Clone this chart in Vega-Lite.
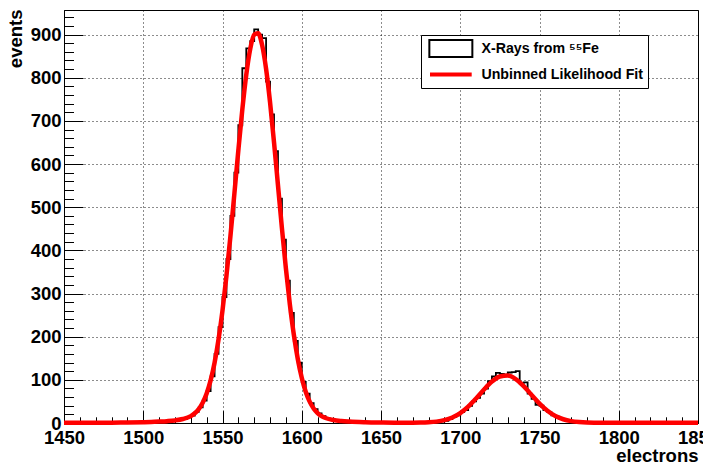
{
  "$schema": "https://vega.github.io/schema/vega-lite/v6.json",
  "width": 634,
  "height": 413,
  "autosize": {"type": "none"},
  "padding": {"left": 64, "top": 10, "right": 5, "bottom": 41},
  "background": "white",
  "view": {"stroke": "black", "strokeWidth": 1},
  "config": {
    "axis": {
      "labelFont": "Liberation Sans", "labelFontWeight": "bold", "labelFontSize": 18.5, "labelColor": "black",
      "titleFont": "Liberation Sans", "titleFontWeight": "bold", "titleFontSize": 18.5, "titleColor": "black",
      "domainColor": "black", "tickColor": "black", "gridColor": "black", "gridDash": [1, 3], "gridWidth": 1, "gridOpacity": 0.9,
      "labelFlush": false, "labelOverlap": false
    }
  },
  "datasets": {
    "hist": [
      {"x":1450,"n":0},{"x":1452.5,"n":0},{"x":1455,"n":0},{"x":1457.5,"n":0},{"x":1460,"n":1},{"x":1462.5,"n":0},{"x":1465,"n":0},{"x":1467.5,"n":0},
      {"x":1470,"n":0},{"x":1472.5,"n":1},{"x":1475,"n":0},{"x":1477.5,"n":0},{"x":1480,"n":1},{"x":1482.5,"n":0},{"x":1485,"n":1},{"x":1487.5,"n":0},
      {"x":1490,"n":1},{"x":1492.5,"n":1},{"x":1495,"n":2},{"x":1497.5,"n":3},{"x":1500,"n":5},{"x":1502.5,"n":2},{"x":1505,"n":3},{"x":1507.5,"n":4},
      {"x":1510,"n":3},{"x":1512.5,"n":5},{"x":1515,"n":4},{"x":1517.5,"n":6},{"x":1520,"n":6},{"x":1522.5,"n":8},{"x":1525,"n":9},{"x":1527.5,"n":13},
      {"x":1530,"n":17},{"x":1532.5,"n":26},{"x":1535,"n":36},{"x":1537.5,"n":52},{"x":1540,"n":74},{"x":1542.5,"n":108},{"x":1545,"n":160},{"x":1547.5,"n":222},
      {"x":1550,"n":292},{"x":1552.5,"n":380},{"x":1555,"n":480},{"x":1557.5,"n":580},{"x":1560,"n":690},{"x":1562.5,"n":822},{"x":1565,"n":868},{"x":1567.5,"n":885},
      {"x":1570,"n":912},{"x":1572.5,"n":900},{"x":1575,"n":892},{"x":1577.5,"n":791},{"x":1580,"n":715},{"x":1582.5,"n":630},{"x":1585,"n":520},{"x":1587.5,"n":425},
      {"x":1590,"n":330},{"x":1592.5,"n":255},{"x":1595,"n":190},{"x":1597.5,"n":140},{"x":1600,"n":95},{"x":1602.5,"n":68},{"x":1605,"n":46},{"x":1607.5,"n":32},
      {"x":1610,"n":22},{"x":1612.5,"n":16},{"x":1615,"n":12},{"x":1617.5,"n":9},{"x":1620,"n":7},{"x":1622.5,"n":5},{"x":1625,"n":4},{"x":1627.5,"n":3},
      {"x":1630,"n":2},{"x":1632.5,"n":2},{"x":1635,"n":1},{"x":1637.5,"n":1},{"x":1640,"n":0},{"x":1642.5,"n":1},{"x":1645,"n":0},{"x":1647.5,"n":0},
      {"x":1650,"n":1},{"x":1652.5,"n":0},{"x":1655,"n":0},{"x":1657.5,"n":1},{"x":1660,"n":0},{"x":1662.5,"n":0},{"x":1665,"n":0},{"x":1667.5,"n":1},
      {"x":1670,"n":0},{"x":1672.5,"n":1},{"x":1675,"n":1},{"x":1677.5,"n":1},{"x":1680,"n":2},{"x":1682.5,"n":2},{"x":1685,"n":3},{"x":1687.5,"n":4},
      {"x":1690,"n":5},{"x":1692.5,"n":9},{"x":1695,"n":14},{"x":1697.5,"n":18},{"x":1700,"n":25},{"x":1702.5,"n":30},{"x":1705,"n":40},{"x":1707.5,"n":50},
      {"x":1710,"n":58},{"x":1712.5,"n":68},{"x":1715,"n":80},{"x":1717.5,"n":97},{"x":1720,"n":108},{"x":1722.5,"n":116},{"x":1725,"n":114},{"x":1727.5,"n":112},
      {"x":1730,"n":117},{"x":1732.5,"n":118},{"x":1735,"n":120},{"x":1737.5,"n":92},{"x":1740,"n":94},{"x":1742.5,"n":68},{"x":1745,"n":56},{"x":1747.5,"n":42},
      {"x":1750,"n":40},{"x":1752.5,"n":30},{"x":1755,"n":25},{"x":1757.5,"n":18},{"x":1760,"n":15},{"x":1762.5,"n":10},{"x":1765,"n":8},{"x":1767.5,"n":6},
      {"x":1770,"n":4},{"x":1772.5,"n":3},{"x":1775,"n":2},{"x":1777.5,"n":1},{"x":1780,"n":1},{"x":1782.5,"n":0},{"x":1785,"n":1},{"x":1787.5,"n":0},
      {"x":1790,"n":0},{"x":1792.5,"n":0},{"x":1795,"n":0},{"x":1797.5,"n":1},{"x":1800,"n":0},{"x":1802.5,"n":0},{"x":1805,"n":0},{"x":1807.5,"n":0},
      {"x":1810,"n":0},{"x":1812.5,"n":1},{"x":1815,"n":0},{"x":1817.5,"n":0},{"x":1820,"n":0},{"x":1822.5,"n":0},{"x":1825,"n":0},{"x":1827.5,"n":0},
      {"x":1830,"n":0},{"x":1832.5,"n":0},{"x":1835,"n":0},{"x":1837.5,"n":0},{"x":1840,"n":0},{"x":1842.5,"n":0},{"x":1845,"n":0},{"x":1847.5,"n":0},
      {"x":1850,"n":0}
    ],
    "fit": [
      {"x":1450,"f":0.5},{"x":1460,"f":0.5},{"x":1470,"f":0.6},{"x":1480,"f":0.8},{"x":1490,"f":1.2},{"x":1500,"f":1.8},{"x":1505,"f":2.3},{"x":1510,"f":3.2},
      {"x":1515,"f":4.3},{"x":1520,"f":6.0},{"x":1525,"f":9.2},{"x":1530,"f":16.0},{"x":1532.5,"f":22.5},{"x":1535,"f":32.3},{"x":1537.5,"f":47},{"x":1540,"f":68.4},
      {"x":1542.5,"f":98.7},{"x":1545,"f":139.7},{"x":1547.5,"f":193.6},{"x":1550,"f":260.8},{"x":1552.5,"f":341.4},{"x":1555,"f":432.7},{"x":1557.5,"f":531.6},
      {"x":1560,"f":631.9},{"x":1562.5,"f":726.1},{"x":1565,"f":807},{"x":1567.5,"f":866.8},{"x":1570,"f":900},{"x":1572.5,"f":903},{"x":1575,"f":875.6},
      {"x":1577.5,"f":820.5},{"x":1580,"f":743},{"x":1582.5,"f":650.7},{"x":1585,"f":551},{"x":1587.5,"f":451},{"x":1590,"f":357.8},{"x":1592.5,"f":274.8},
      {"x":1595,"f":204.7},{"x":1597.5,"f":148.3},{"x":1600,"f":104.8},{"x":1602.5,"f":72.5},{"x":1605,"f":49.5},{"x":1607.5,"f":33.7},{"x":1610,"f":23},
      {"x":1612.5,"f":16},{"x":1615,"f":11.6},{"x":1620,"f":6.8},{"x":1625,"f":4.5},{"x":1630,"f":3.2},{"x":1640,"f":1.8},{"x":1650,"f":1.1},{"x":1660,"f":0.7},
      {"x":1670,"f":0.7},{"x":1675,"f":0.9},{"x":1680,"f":1.6},{"x":1685,"f":3.2},{"x":1690,"f":6.6},{"x":1695,"f":12.8},{"x":1700,"f":23},{"x":1705,"f":37.9},
      {"x":1710,"f":56.9},{"x":1715,"f":77.6},{"x":1720,"f":96},{"x":1725,"f":107.9},{"x":1730,"f":110},{"x":1735,"f":101.8},{"x":1740,"f":85.5},{"x":1745,"f":65.1},
      {"x":1750,"f":45.1},{"x":1755,"f":28.4},{"x":1760,"f":16.3},{"x":1765,"f":8.7},{"x":1770,"f":4.3},{"x":1775,"f":2.1},{"x":1780,"f":1.1},{"x":1790,"f":0.6},
      {"x":1800,"f":0.5},{"x":1820,"f":0.5},{"x":1850,"f":0.5}
    ]
  },
  "layer": [
    {
      "data": {"name": "hist"},
      "mark": {"type": "line", "interpolate": "step-after", "strokeWidth": 1.8},
      "encoding": {
        "x": {
          "field": "x", "type": "quantitative",
          "scale": {"domain": [1450, 1850], "nice": false, "zero": false},
          "axis": {
            "orient": "bottom", "values": [1450, 1500, 1550, 1600, 1650, 1700, 1750, 1800, 1850],
            "format": "d", "tickSize": -12.4, "labelPadding": 18, "grid": true,
            "title": "electrons", "titleX": 634, "titleY": 38, "titleAlign": "right", "titleAnchor": "end", "titleBaseline": "alphabetic"
          }
        },
        "y": {
          "field": "n", "type": "quantitative",
          "scale": {"domain": [0, 957], "nice": false},
          "axis": {
            "orient": "left", "values": [0, 100, 200, 300, 400, 500, 600, 700, 800, 900],
            "format": "d", "tickSize": -19, "labelPadding": 22, "grid": true,
            "title": "events", "titleAngle": -90, "titleX": -42.3, "titleY": -1, "titleAlign": "right", "titleAnchor": "end", "titleBaseline": "alphabetic"
          }
        },
        "color": {
          "datum": "X-Rays from ⁵⁵Fe", "type": "nominal",
          "scale": {"domain": ["X-Rays from ⁵⁵Fe", "Unbinned Likelihood Fit"], "range": ["black", "#ff0000"]},
          "legend": {
            "orient": "none", "legendX": 357, "legendY": 25, "title": null,
            "padding": 4, "clipHeight": 19, "rowPadding": 7,
            "symbolSize": 100, "symbolOffset": 18.75, "symbolStrokeWidth": 2,
            "labelOffset": 23.5, "labelFont": "Liberation Sans", "labelFontWeight": "bold", "labelFontSize": 14.2, "labelColor": "black",
            "labelLimit": 300,
            "strokeColor": "black", "fillColor": "white",
            "encode": {
              "symbols": {
                "update": {
                  "shape": {"signal": "datum.index === 0 ? 'M-4.3,-1.7H4.3V1.7H-4.3Z' : 'M-4.17,0H4.17'"},
                  "strokeWidth": {"signal": "datum.index === 0 ? 2 : 4"},
                  "fill": {"value": "transparent"},
                  "opacity": {"value": 1}
                }
              }
            }
          }
        }
      }
    },
    {
      "data": {"name": "fit"},
      "mark": {"type": "line", "interpolate": "monotone", "strokeWidth": 4.5},
      "encoding": {
        "x": {
          "field": "x", "type": "quantitative",
          "axis": {
            "orient": "bottom",
            "values": [1460,1470,1480,1490,1510,1520,1530,1540,1560,1570,1580,1590,1610,1620,1630,1640,1660,1670,1680,1690,1710,1720,1730,1740,1760,1770,1780,1790,1810,1820,1830,1840],
            "tickSize": -6.2, "labels": false, "grid": false, "domain": false, "title": null
          }
        },
        "y": {
          "field": "f", "type": "quantitative",
          "axis": {
            "orient": "left",
            "values": [20,40,60,80,120,140,160,180,220,240,260,280,320,340,360,380,420,440,460,480,520,540,560,580,620,640,660,680,720,740,760,780,820,840,860,880,920,940],
            "tickSize": -9.5, "labels": false, "grid": false, "domain": false, "title": null
          }
        },
        "color": {"datum": "Unbinned Likelihood Fit", "type": "nominal"}
      }
    }
  ],
  "resolve": {"axis": {"x": "independent", "y": "independent"}}
}
